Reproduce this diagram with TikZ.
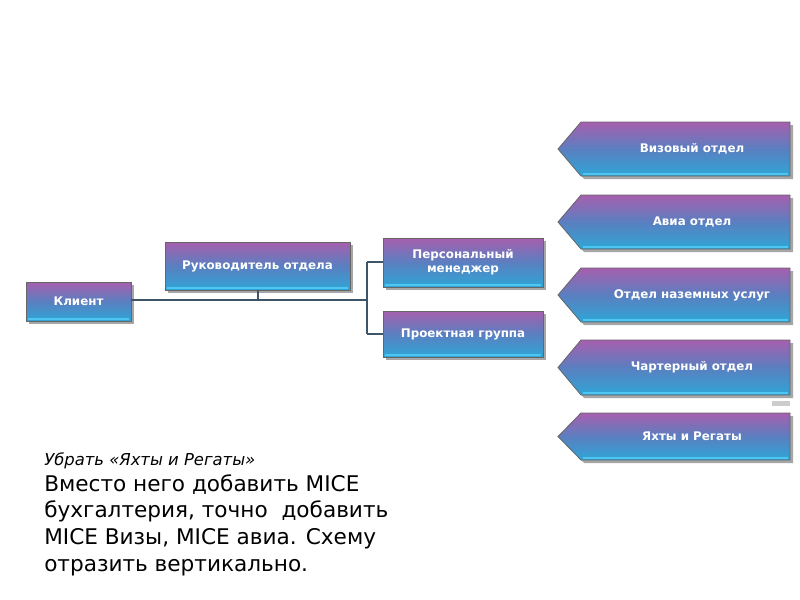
\documentclass[tikz,border=0pt]{standalone}
\usepackage{fontspec}
\setmainfont{DejaVu Sans}
\begin{document}
\begin{tikzpicture}[x=0.75pt,y=-0.75pt,
  box/.style={draw=black!60,line width=0.6pt,top color=boxtop,bottom color=boxbot,middle color=boxmid},
  lbl/.style={text=white,font=\bfseries\fontsize{8.9}{10.5}\selectfont,align=center},
  ln/.style={draw=linec,line width=1.2pt}]
\definecolor{boxtop}{HTML}{A65FAE}
\definecolor{boxmid}{HTML}{5A7FC0}
\definecolor{boxbot}{HTML}{2EA6D6}
\definecolor{linec}{HTML}{3E5568}
\useasboundingbox (0,0) rectangle (800,600);
\fill[white] (0,0) rectangle (800,600);
% shadows
\foreach \a/\b/\c/\d in {26/282/131/321,165/242/350/290,383/238/543/287,383/311/543/357}
  \fill[black!35] (\a+3,\b+3) rectangle (\c+3,\d+3);
\path[box] (26,282) rectangle (131,321); \draw[cyan!70,line width=1.5pt] (28,319) -- (129,319);
\node[lbl] (klient) at (78.5,301) {Клиент};
\path[box] (165,242) rectangle (350,290); \draw[cyan!70,line width=1.5pt] (167,288) -- (348,288);
\node[lbl] (ruk) at (257.5,266) {Руководитель отдела};
\path[box] (383,238) rectangle (543,287); \draw[cyan!70,line width=1.5pt] (385,285) -- (541,285);
\node[lbl] (pers) at (463,262) {Персональный\\менеджер};
\path[box] (383,311) rectangle (543,357); \draw[cyan!70,line width=1.5pt] (385,355) -- (541,355);
\node[lbl] (proj) at (463,334) {Проектная группа};
\coordinate (k0) at (131,300);
\coordinate (r0) at (258,290);
\coordinate (j1) at (258,300); \coordinate (j2) at (367,300);
\coordinate (j3) at (367,262); \coordinate (j4) at (367,334);
\coordinate (p0) at (383,262); \coordinate (q0) at (383,334);
\draw[ln] (k0) -- (j2);
\draw[ln] (j1) -- (r0);
\draw[ln] (j3) -- (j4);
\draw[ln] (j3) -- (p0);
\draw[ln] (j4) -- (q0);
% arrows
\foreach \t/\b/\txt/\nm in {122/176/Визовый отдел/a1,195/249/Авиа отдел/a2,268/322/Отдел наземных услуг/a3,340/395/Чартерный отдел/a4,413/460/Яхты и Регаты/a5}{
  \fill[black!35] (584,\t+3) -- (793,\t+3) -- (793,\b+3) -- (584,\b+3) -- (561,{(\t+\b)/2+3}) -- cycle;
  \path[box] (581,\t) -- (790,\t) -- (790,\b) -- (581,\b) -- (558,{(\t+\b)/2}) -- cycle;
  \draw[cyan!70,line width=1.5pt] (583,\b-2) -- (788,\b-2);
  \node[lbl] (\nm) at (692,{(\t+\b)/2}) {\txt};
}
\fill[black!20] (772,401) rectangle (790,406);
\node[anchor=west,font=\itshape\fontsize{12.3}{14}\selectfont,inner sep=0pt] (t1) at (44,461) {Убрать «Яхты и Регаты»};
\node[anchor=north west,align=left,font=\fontsize{16.2}{20}\selectfont,inner sep=0pt] (t2) at (44,474)
 {Вместо него добавить MICE\\бухгалтерия, точно\ \ добавить\\MICE Визы, MICE авиа. Схему\\отразить вертикально.};
\end{tikzpicture}
\end{document}
